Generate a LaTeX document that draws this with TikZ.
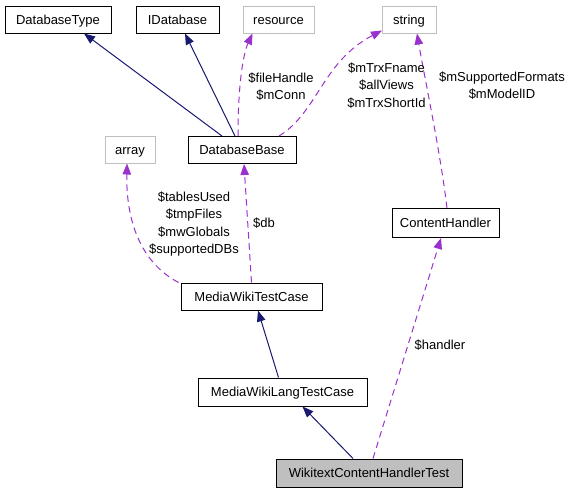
\documentclass[tikz,border=0pt]{standalone}
\usepackage{fontspec}
\setmainfont{Liberation Sans}
\usetikzlibrary{arrows.meta}
\definecolor{edgenavy}{RGB}{25,25,112}
\definecolor{edgepurple}{RGB}{153,50,204}
\definecolor{boxgray}{RGB}{191,191,191}

\begin{document}
\begin{tikzpicture}[x=1pt,y=-1pt,font=\fontsize{13}{17.5}\selectfont,
  classbox/.style={draw=black,line width=1pt,minimum height=27pt,inner sep=0pt,text height=10pt,text depth=1pt},
  extbox/.style={draw=boxgray,line width=1pt,minimum height=27pt,inner sep=0pt,text height=10pt,text depth=1pt},
  inheritarrow/.style={draw=edgenavy,line width=1pt,-{Triangle[length=11pt,width=8.5pt]}},
  usagearrow/.style={draw=edgepurple,line width=1pt,dash pattern=on 6.5pt off 4.5pt,-{Triangle[length=11pt,width=8.5pt]}},
  memberlabel/.style={align=center,inner sep=0pt}]
\useasboundingbox (0,0) rectangle (571,493);
% classes
\node[classbox,minimum width=106pt] (dbtype) at (58,19.5) {DatabaseType};
\node[classbox,minimum width=83pt] (idb) at (177.5,19.5) {IDatabase};
\node[extbox,minimum width=71pt] (res) at (278.5,19.5) {resource};
\node[extbox,minimum width=54pt] (str) at (409,19.5) {string};
\node[extbox,minimum width=50pt] (arr) at (130,149.5) {array};
\node[classbox,minimum width=108pt] (dbbase) at (242,150) {DatabaseBase};
\node[classbox,minimum width=107pt,minimum height=29pt] (handler) at (445.5,223) {ContentHandler};
\node[classbox,minimum width=141pt] (mwtc) at (251.5,296.5) {MediaWikiTestCase};
\node[classbox,minimum width=169pt,minimum height=28pt] (mwlang) at (282.5,392) {MediaWikiLangTestCase};
\node[classbox,fill=boxgray,minimum width=186pt,minimum height=28pt] (wtest) at (369,473) {WikitextContentHandlerTest};
% inheritance
\draw[inheritarrow] ([xshift=-20pt]dbbase.north) -- ([xshift=26pt]dbtype.south);
\draw[inheritarrow] ([xshift=-7pt]dbbase.north) -- ([xshift=7.5pt]idb.south);
\draw[inheritarrow] ([xshift=-4pt]mwlang.north) -- ([xshift=6.5pt]mwtc.south);
\draw[inheritarrow] ([xshift=-16pt]wtest.north) -- ([xshift=20pt]mwlang.south);
% members
\draw[usagearrow] ([xshift=-4pt]dbbase.north) .. controls (238,80) and (244,52) .. ([xshift=-26pt]res.south);
\draw[usagearrow] ([xshift=37pt]dbbase.north) .. controls (318,112) and (322,62) .. ([xshift=-27pt,yshift=3pt]str.south);
\draw[usagearrow] ([xshift=1.5pt]handler.north) .. controls (440,150) and (425,80) .. ([xshift=8pt]str.south);
\draw[usagearrow] ([xshift=-73pt]mwtc.north) .. controls (140,262) and (126,220) .. ([xshift=-3pt]arr.south);
\draw[usagearrow] (mwtc.north) -- ([xshift=2pt]dbbase.south);
\draw[usagearrow] ([xshift=4pt]wtest.north) -- ([xshift=-4.5pt]handler.south);
% labels
\node[memberlabel] (lblres) at (281,86.5) {\$fileHandle\\\$mConn};
\node[memberlabel] (lblstr) at (386.5,85.5) {\$mTrxFname\\\$allViews\\\$mTrxShortId};
\node[memberlabel] (lblfmt) at (502,85.5) {\$mSupportedFormats\\\$mModelID};
\node[memberlabel] (lblarr) at (194,224) {\$tablesUsed\\\$tmpFiles\\\$mwGlobals\\\$supportedDBs};
\node[memberlabel] (lbldb) at (264,223.5) {\$db};
\node[memberlabel] (lblhandler) at (440,345) {\$handler};
\end{tikzpicture}
\end{document}
